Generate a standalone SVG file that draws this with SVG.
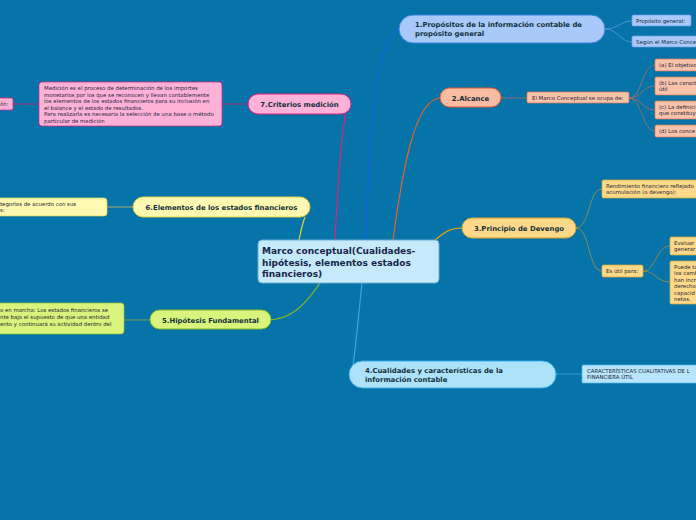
<svg xmlns="http://www.w3.org/2000/svg" width="696" height="520" viewBox="0 0 696 520">
<style>
.t{font-family:"DejaVu Sans",Verdana,sans-serif;font-weight:bold;font-size:6.9px;fill:#12303a}
.s{font-family:"DejaVu Sans",Verdana,sans-serif;font-size:5.4px;fill:#1c2636}
.c{fill:none;stroke-width:1.2}
.l{fill:none;stroke-width:0.8}
</style>
<rect width="696" height="520" fill="#0673A9"/>
<g id="connectors">
<path class="c" stroke="#1565E6" d="M366,240 C370,120 378,35 399,29"/>
<path class="c" stroke="#E8622A" d="M393,240 C405,150 418,100 440,98"/>
<path class="c" stroke="#F2A800" d="M435,240 C445,232 450,228 462,228"/>
<path class="c" stroke="#2EAAE8" d="M362,283 C358,320 356,345 353,365"/>
<path class="c" stroke="#8AB820" d="M320,283 C305,305 292,318 271,320"/>
<path class="c" stroke="#E8D41E" d="M299,240 C301,230 303,222 305,217"/>
<path class="c" stroke="#E0207A" d="M335,240 C338,180 342,130 346,114"/>
<path class="l" stroke="#5A9EE0" d="M605,29 C618,29 620,21 632,21 M605,29 C618,29 620,42 632,42"/>
<path class="l" stroke="#B07060" d="M501,98 L527,98"/>
<path class="l" stroke="#B07060" d="M629,98 C642,98 642,65 655,65 M629,98 C642,98 642,86 655,86 M629,98 C642,98 642,110 655,110 M629,98 C642,98 642,131 655,131"/>
<path class="l" stroke="#A89040" d="M576,228 C590,228 588,189 602,189 M576,228 C590,228 588,271 602,271"/>
<path class="l" stroke="#A89040" d="M643,271 C656,271 656,246 670,246 M643,271 C656,271 656,282 670,282"/>
<path class="l" stroke="#3AA8E0" d="M556,374 L582,374"/>
<path class="l" stroke="#90B020" d="M124,320 L150,320"/>
<path class="l" stroke="#C8C050" d="M107,207 L133,207"/>
<path class="l" stroke="#C02070" d="M13,104 L39,104 M222,104 L248,104"/>
</g>
<g id="center">
<rect x="258" y="240" width="181" height="43" rx="4" fill="#C6E9FB" stroke="#6AAED6" stroke-width="1"/>
<text class="t" style="font-size:9px;fill:#16264a"><tspan x="262" y="254">Marco conceptual(Cualidades-</tspan><tspan x="262" y="265.5">hipótesis, elementos estados</tspan><tspan x="262" y="277">financieros)</tspan></text>
</g>
<g id="n1">
<rect x="399" y="15" width="206" height="28" rx="14" fill="#A8C9FA" stroke="#3A80E0" stroke-width="1"/>
<text class="t"><tspan x="415" y="27">1.Propósitos de la información contable de</tspan><tspan x="415" y="35.5">propósito general</tspan></text>
</g>
<g id="n1a">
<rect x="632" y="15" width="59" height="11" rx="1.5" fill="#A8C9FA" stroke="#6A9EE8" stroke-width="0.7"/>
<text class="s" x="636" y="22.5">Propósito general:</text>
</g>
<g id="n1b">
<rect x="632" y="36" width="80" height="11" rx="1.5" fill="#A8C9FA" stroke="#6A9EE8" stroke-width="0.7"/>
<text class="s" x="636" y="43.5">Según el Marco Conce</text>
</g>
<g id="n2">
<rect x="440" y="88" width="61" height="19" rx="9.5" fill="#F9BBA2" stroke="#E05A2A" stroke-width="1"/>
<text class="t" x="470.5" y="100.5" text-anchor="middle">2.Alcance</text>
</g>
<g id="n2a">
<rect x="527" y="92" width="102" height="11" rx="1.5" fill="#F9C2AA" stroke="#E07A50" stroke-width="0.7"/>
<text class="s" x="532" y="99.5">El Marco Conceptual se ocupa de:</text>
</g>
<g id="n2a1">
<rect x="655" y="59" width="50" height="12" rx="1.5" fill="#F9C2AA" stroke="#E07A50" stroke-width="0.7"/>
<text class="s" x="659" y="67">(a) El objetivo</text>
</g>
<g id="n2a2">
<rect x="655" y="77" width="50" height="18" rx="1.5" fill="#F9C2AA" stroke="#E07A50" stroke-width="0.7"/>
<text class="s"><tspan x="659" y="84.5">(b) Las caract</tspan><tspan x="659" y="91">útil</tspan></text>
</g>
<g id="n2a3">
<rect x="655" y="101" width="50" height="18" rx="1.5" fill="#F9C2AA" stroke="#E07A50" stroke-width="0.7"/>
<text class="s"><tspan x="659" y="108.5">(c) La definici</tspan><tspan x="659" y="115">que constituy</tspan></text>
</g>
<g id="n2a4">
<rect x="655" y="125" width="50" height="12" rx="1.5" fill="#F9C2AA" stroke="#E07A50" stroke-width="0.7"/>
<text class="s" x="659" y="133">(d) Los conce</text>
</g>
<g id="n3">
<rect x="462" y="218" width="114" height="20" rx="10" fill="#FFD98A" stroke="#E0A020" stroke-width="1"/>
<text class="t" x="519" y="230.5" text-anchor="middle">3.Principio de Devengo</text>
</g>
<g id="n3a">
<rect x="602" y="180" width="110" height="18" rx="1.5" fill="#FFD98A" stroke="#E0A830" stroke-width="0.7"/>
<text class="s"><tspan x="606" y="187.5">Rendimiento financiero reflejado</tspan><tspan x="606" y="194">acumulación (o devengo):</tspan></text>
</g>
<g id="n3b">
<rect x="602" y="265" width="41" height="12" rx="1.5" fill="#FFD98A" stroke="#E0A830" stroke-width="0.7"/>
<text class="s" x="606" y="273">Es útil para:</text>
</g>
<g id="n3b1">
<rect x="670" y="237" width="40" height="18" rx="1.5" fill="#FFD98A" stroke="#E0A830" stroke-width="0.7"/>
<text class="s"><tspan x="674" y="244.5">Evaluar</tspan><tspan x="674" y="251">generar</tspan></text>
</g>
<g id="n3b2">
<rect x="670" y="261" width="40" height="43" rx="1.5" fill="#FFD98A" stroke="#E0A830" stroke-width="0.7"/>
<text class="s"><tspan x="674" y="268.5">Puede ta</tspan><tspan x="674" y="275">los camb</tspan><tspan x="674" y="281.5">han incr</tspan><tspan x="674" y="288">derecho</tspan><tspan x="674" y="294.5">capacid</tspan><tspan x="674" y="301">netas.</tspan></text>
</g>
<g id="n4">
<rect x="349" y="361" width="207" height="27" rx="13.5" fill="#AEE2FA" stroke="#3AAEE8" stroke-width="1"/>
<text class="t"><tspan x="365" y="373">4.Cualidades y características de la</tspan><tspan x="365" y="381.5">información contable</tspan></text>
</g>
<g id="n4a">
<rect x="582" y="365" width="130" height="18" rx="1.5" fill="#B8E5FA" stroke="#5AB8E8" stroke-width="0.7"/>
<text class="s"><tspan x="587" y="372.5">CARACTERÍSTICAS CUALITATIVAS DE L</tspan><tspan x="587" y="379">FINANCIERA ÚTIL</tspan></text>
</g>
<g id="n5">
<rect x="150" y="310" width="121" height="19" rx="9.5" fill="#D8F47C" stroke="#88B820" stroke-width="1"/>
<text class="t" x="210.5" y="322.5" text-anchor="middle">5.Hipótesis Fundamental</text>
</g>
<g id="n5a">
<rect x="-20" y="303" width="144" height="31" rx="3" fill="#D8F47C" stroke="#98C030" stroke-width="0.7"/>
<text class="s"><tspan x="0" y="311.5">o en marcha: Los estados financieros se</tspan><tspan x="0" y="318.5">nte bajo el supuesto de que una entidad</tspan><tspan x="0" y="325.5">ento y continuará su actividad dentro del</tspan></text>
</g>
<g id="n6">
<rect x="133" y="197" width="177" height="20" rx="10" fill="#FFF9B2" stroke="#E0D040" stroke-width="1"/>
<text class="t" x="221.5" y="209.5" text-anchor="middle">6.Elementos de los estados financieros</text>
</g>
<g id="n6a">
<rect x="-20" y="198" width="127" height="18" rx="3" fill="#FFF9B2" stroke="#E0D040" stroke-width="0.7"/>
<text class="s"><tspan x="0" y="205.5">tegorías de acuerdo con sus</tspan><tspan x="0" y="212">s:</tspan></text>
</g>
<g id="n7">
<rect x="248" y="94" width="103" height="20" rx="10" fill="#FFB2D8" stroke="#E0207A" stroke-width="1"/>
<text class="t" x="299.5" y="106.5" text-anchor="middle">7.Criterios medición</text>
</g>
<g id="n7a">
<rect x="39" y="82" width="183" height="44" rx="3" fill="#FFB2D8" stroke="#E0207A" stroke-width="0.7"/>
<text class="s"><tspan x="44" y="90">Medición es el proceso de determinación de los importes</tspan><tspan x="44" y="96.5">monetarios por los que se reconocen y llevan contablemente</tspan><tspan x="44" y="103">los elementos de los estados financieros para su inclusión en</tspan><tspan x="44" y="109.5">el balance y el estado de resultados.</tspan><tspan x="44" y="116">Para realizarla es necesaria la selección de una base o método</tspan><tspan x="44" y="122.5">particular de medición</tspan></text>
</g>
<g id="n7b">
<rect x="-20" y="98" width="33" height="12" rx="2" fill="#FFB2D8" stroke="#E0207A" stroke-width="0.7"/>
<text class="s" x="0" y="106">ón:</text>
</g>
</svg>
